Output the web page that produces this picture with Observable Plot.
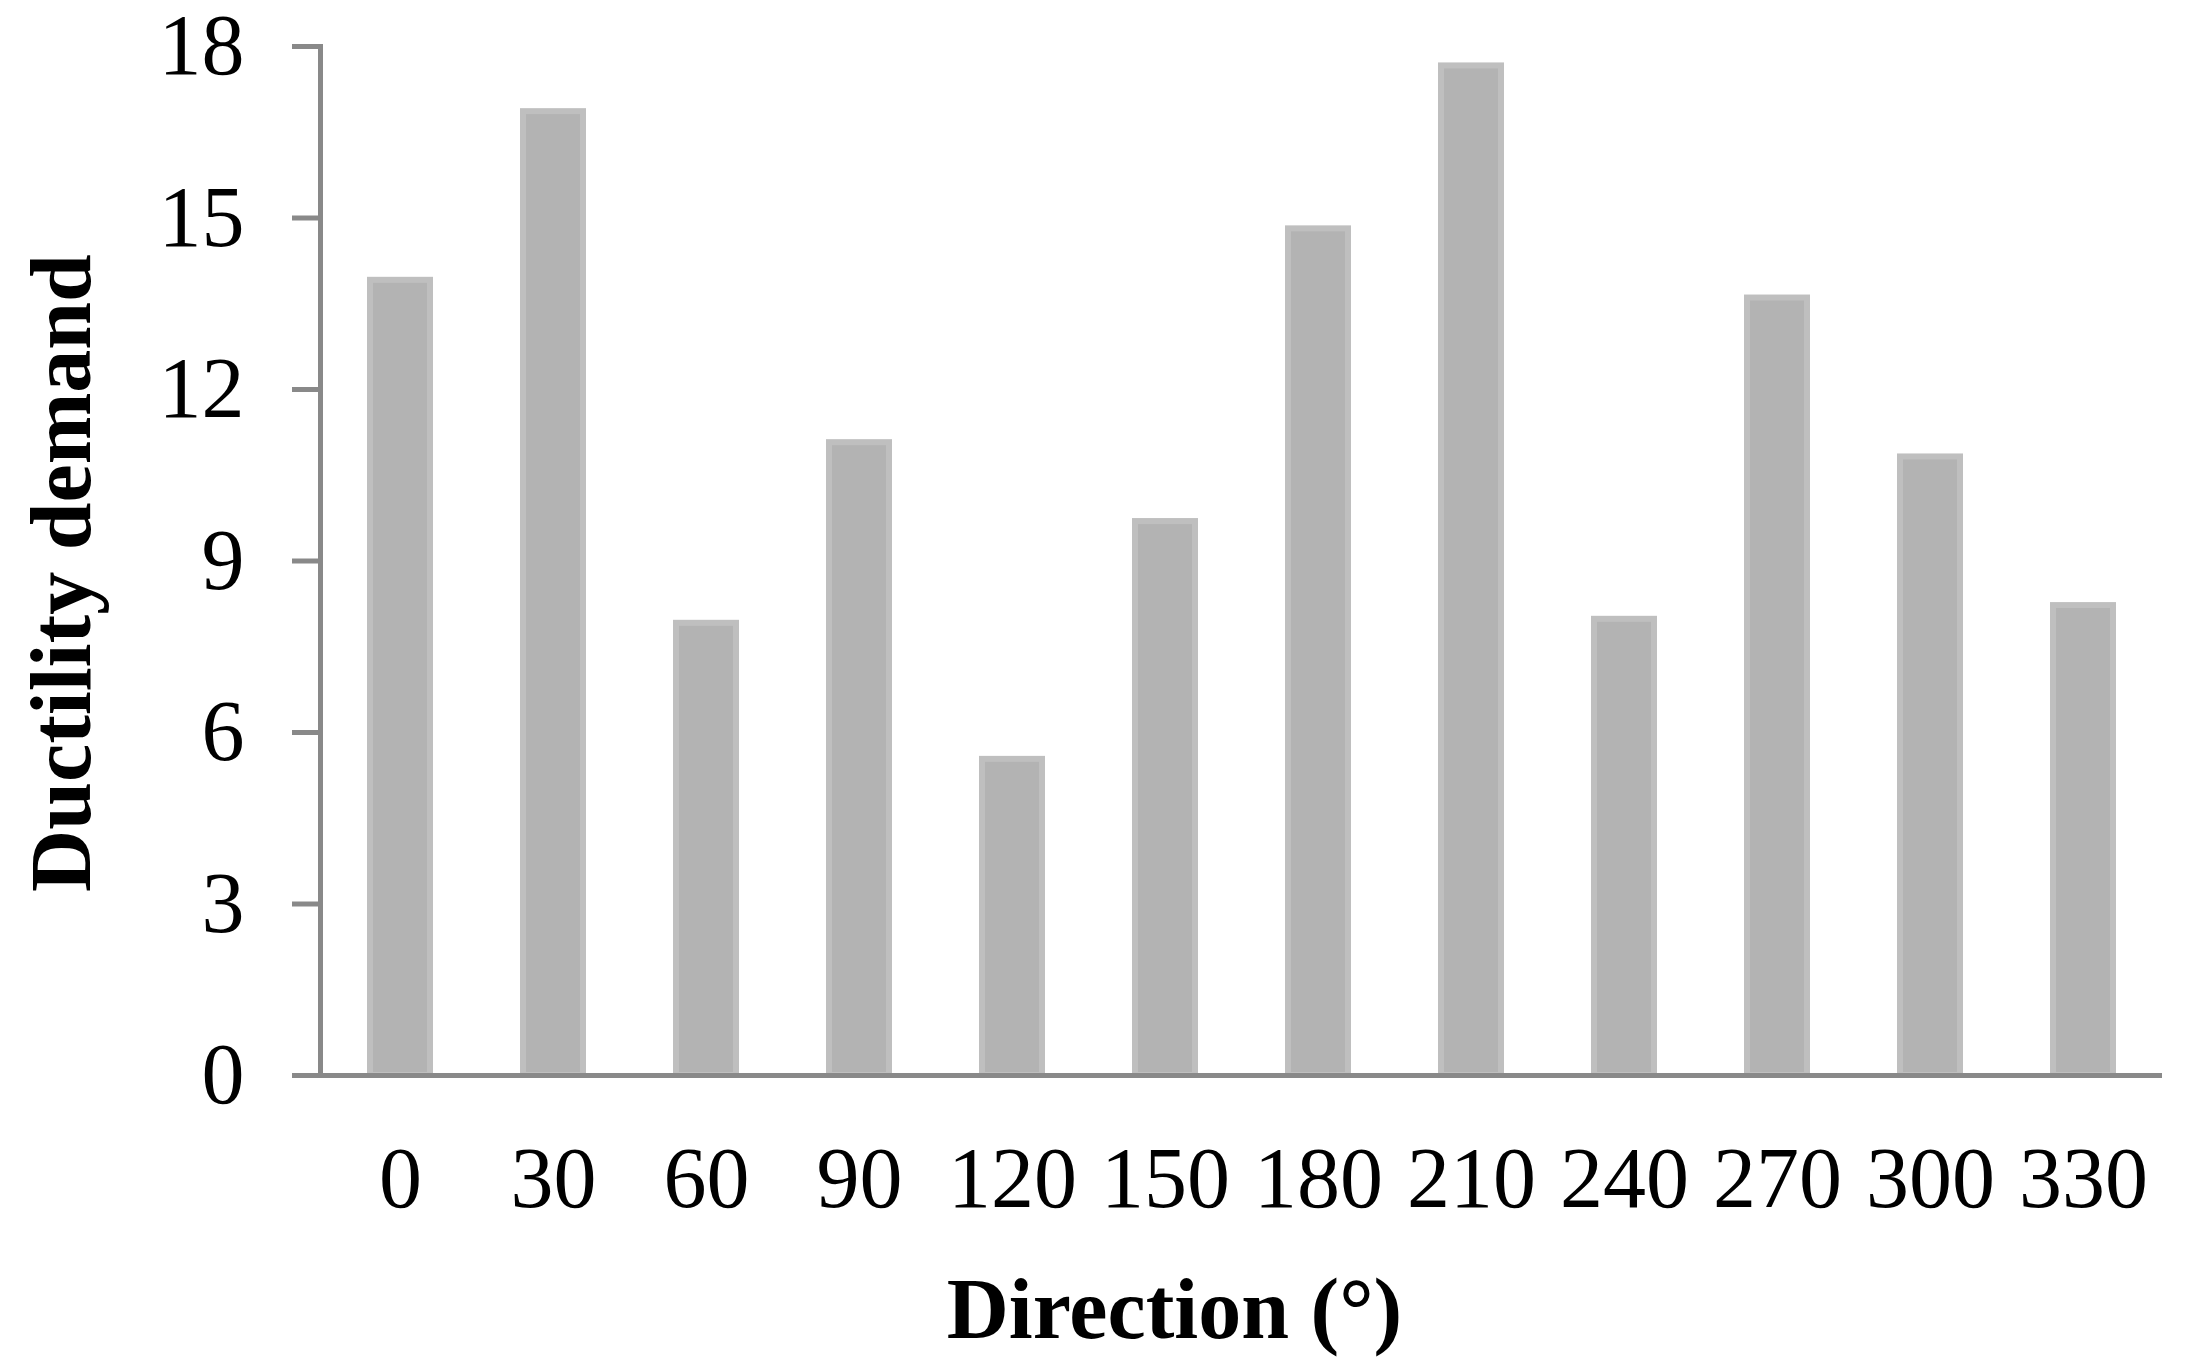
<!DOCTYPE html>
<html>
<head>
<meta charset="utf-8">
<script src="https://cdn.jsdelivr.net/npm/d3@7"></script>
<script src="https://cdn.jsdelivr.net/npm/@observablehq/plot@0.6"></script>
<style>
  html, body { margin: 0; padding: 0; background: #ffffff; }
  #chart svg { display: block; }
</style>
</head>
<body>
<div id="chart"></div>
<script>
// Data
const directions = ["0", "30", "60", "90", "120", "150", "180", "210", "240", "270", "300", "330"];
const ductility = [13.91, 16.86, 7.91, 11.07, 5.53, 9.69, 14.81, 17.66, 7.98, 13.60, 10.82, 8.22];
const yTicks = [0, 3, 6, 9, 12, 15, 18];
const xTitle = "Direction (°)";
const yTitle = "Ductility demand";

const data = directions.map((d, i) => ({direction: d, value: ductility[i]}));

const axisColor = "#898989";
const font = "'Liberation Serif', 'Times New Roman', serif";

const chart = Plot.plot({
  width: 2190,
  height: 1367,
  marginLeft: 320,
  marginRight: 28,
  marginTop: 46,
  marginBottom: 292,
  style: {fontFamily: font, background: "#ffffff", color: "black"},
  x: {domain: directions, paddingInner: 0.609, paddingOuter: 0.3045, axis: null},
  y: {domain: [0, 18], axis: null},
  marks: [
    Plot.barY(data, {
      x: "direction",
      y: "value",
      fill: "#b3b3b3",
      stroke: "#bfbfbf",
      strokeWidth: 6
    }),
    Plot.frame({anchor: "left", stroke: axisColor, strokeWidth: 5}),
    Plot.ruleY([0], {stroke: axisColor, strokeWidth: 5}),
    Plot.axisY({
      ticks: yTicks,
      tickSize: 28,
      tickPadding: 48,
      fontSize: 86,
      stroke: axisColor,
      strokeWidth: 5,
      fill: "black",
      label: null
    }),
    Plot.axisX({
      tickSize: 0,
      tickPadding: 70,
      fontSize: 86,
      fill: "black",
      label: null
    }),
    Plot.text([yTitle], {
      text: d => d,
      frameAnchor: "left",
      textAnchor: "middle",
      lineAnchor: "middle",
      rotate: -90,
      dx: -258,
      dy: 12,
      fontSize: 86,
      fontWeight: "bold",
      fill: "black"
    }),
    Plot.text([xTitle], {
      text: d => d,
      frameAnchor: "bottom",
      textAnchor: "middle",
      lineAnchor: "middle",
      dx: -67,
      dy: 235,
      fontSize: 86,
      fontWeight: "bold",
      fill: "black"
    })
  ]
});

document.getElementById("chart").appendChild(chart);
</script>
</body>
</html>
